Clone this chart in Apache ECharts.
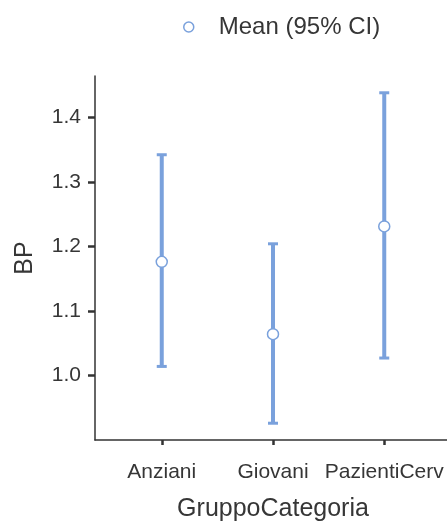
<!DOCTYPE html>
<html>
<head>
<meta charset="utf-8">
<script src="https://cdn.jsdelivr.net/npm/echarts@6/dist/echarts.min.js"></script>
<style>html,body{margin:0;padding:0;background:#fff}#c{width:447px;height:522px}</style>
</head>
<body>
<div id="c"></div>
<script>
const categories = ['Anziani', 'Giovani', 'PazientiCerv'];
const means = [1.176, 1.064, 1.231];
const lower = [1.014, 0.926, 1.027];
const upper = [1.342, 1.204, 1.438];
const yTicks = [1.0, 1.1, 1.2, 1.3, 1.4];
const legendLabel = 'Mean (95% CI)';
const xTitle = 'GruppoCategoria';
const yTitle = 'BP';

const blue = '#7aa1dc';
const textColor = '#363636';
const font = 'Liberation Sans';
const xPos = categories.map((c, i) => i + 1);

const chart = echarts.init(document.getElementById('c'));
chart.setOption({
  animation: false,
  backgroundColor: '#fff',
  grid: { left: 95, top: 76, width: 356, height: 364, outerBoundsMode: 'none', containLabel: false },
  legend: {
    left: 178, top: 10,
    itemWidth: 10, itemHeight: 10,
    data: [{ name: legendLabel, icon: 'circle', itemStyle: { color: '#fff', borderColor: blue, borderWidth: 1.5 } }],
    textStyle: { fontFamily: font, fontSize: 24, color: textColor, padding: [0, 0, 0, 20] }
  },
  xAxis: {
    type: 'value', min: 0.4, max: 3.6,
    name: xTitle, nameLocation: 'middle', nameGap: 57,
    nameTextStyle: { fontFamily: font, fontSize: 25, color: textColor },
    splitLine: { show: false },
    axisLine: { lineStyle: { color: '#333', width: 1.5 } },
    axisTick: { customValues: xPos, length: 5, lineStyle: { color: '#333', width: 2.5 } },
    axisLabel: {
      customValues: xPos, margin: 22,
      fontFamily: font, fontSize: 21, color: textColor,
      formatter: v => categories[Math.round(v) - 1] || ''
    }
  },
  yAxis: {
    type: 'value', min: 0.9, max: 1.464,
    name: yTitle, nameLocation: 'middle', nameGap: 57,
    nameTextStyle: { fontFamily: font, fontSize: 25, color: textColor },
    splitLine: { show: false },
    axisLine: { show: true, lineStyle: { color: '#333', width: 1.5 } },
    axisTick: { show: true, customValues: yTicks, length: 7, lineStyle: { color: '#333', width: 2.5 } },
    axisLabel: {
      customValues: yTicks, margin: 14,
      fontFamily: font, fontSize: 21, color: textColor,
      formatter: v => v.toFixed(1)
    }
  },
  series: [
    {
      type: 'custom',
      name: 'ci',
      data: xPos.map((x, i) => [x, lower[i], upper[i]]),
      renderItem: (params, api) => {
        const lo = api.coord([api.value(0), api.value(1)]);
        const hi = api.coord([api.value(0), api.value(2)]);
        const hw = 5;
        const st = { stroke: blue, lineWidth: 4 };
        const cs = { stroke: blue, lineWidth: 3 };
        return {
          type: 'group',
          children: [
            { type: 'line', shape: { x1: lo[0], y1: lo[1], x2: hi[0], y2: hi[1] }, style: st },
            { type: 'line', shape: { x1: lo[0] - hw, y1: lo[1], x2: lo[0] + hw, y2: lo[1] }, style: cs },
            { type: 'line', shape: { x1: hi[0] - hw, y1: hi[1], x2: hi[0] + hw, y2: hi[1] }, style: cs }
          ]
        };
      },
      z: 2
    },
    {
      type: 'scatter',
      name: legendLabel,
      data: xPos.map((x, i) => [x, means[i]]),
      symbol: 'circle', symbolSize: 11,
      itemStyle: { color: '#fff', borderColor: blue, borderWidth: 1.5, opacity: 1 },
      z: 3
    }
  ]
});
</script>
</body>
</html>
